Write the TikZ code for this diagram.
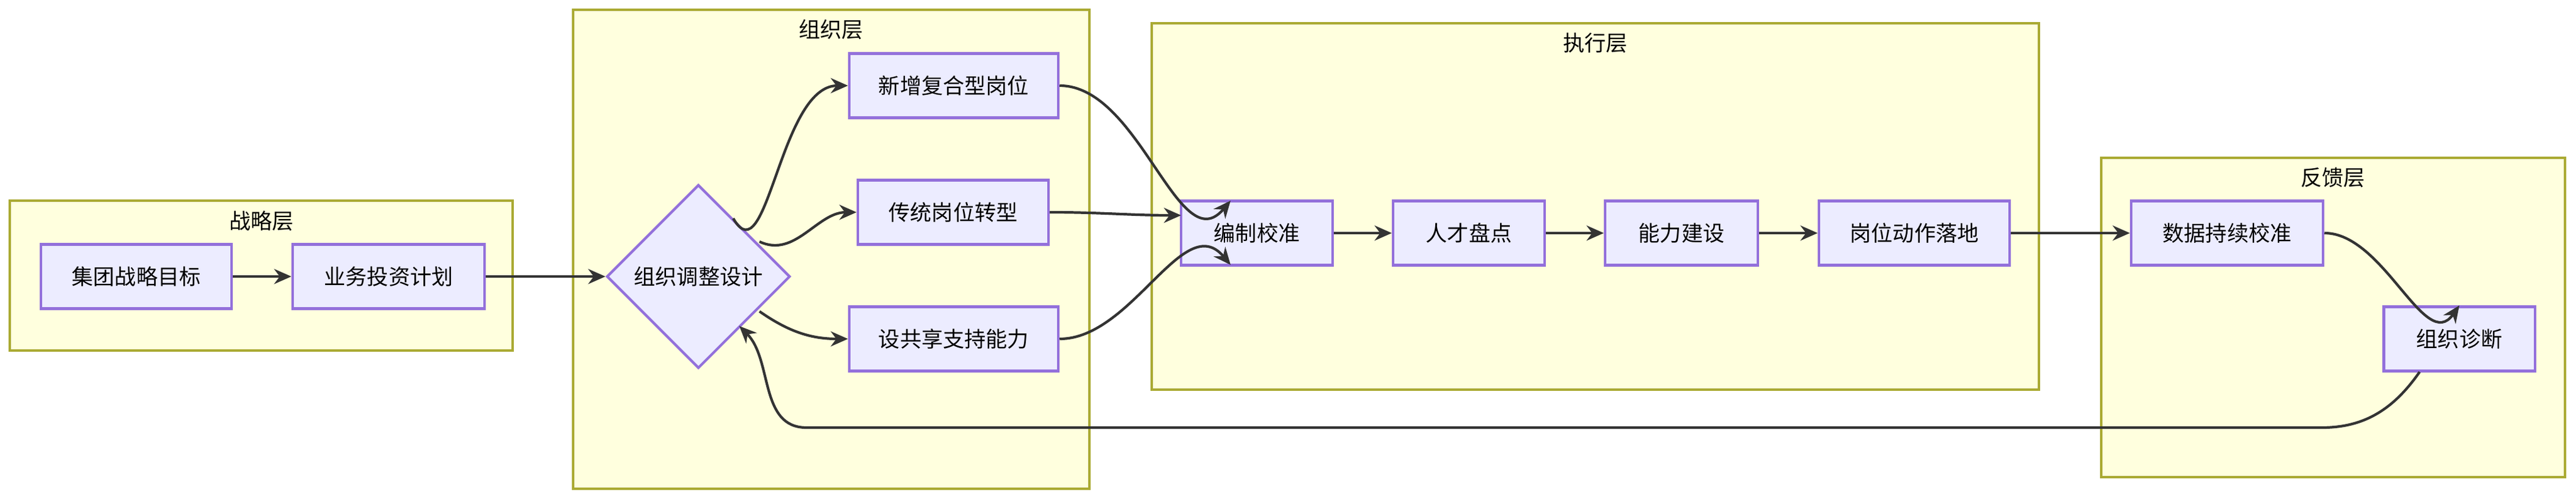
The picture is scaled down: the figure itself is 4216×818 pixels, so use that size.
\documentclass[tikz,border=0pt]{standalone}
\usepackage{fontspec}
\setmainfont{Noto Sans CJK SC}
\usetikzlibrary{shapes.geometric, arrows.meta}
\definecolor{clfill}{HTML}{FFFFDE}
\definecolor{cldraw}{HTML}{AAAA33}
\definecolor{ndfill}{HTML}{ECECFF}
\definecolor{nddraw}{HTML}{9370DB}
\tikzset{
  layer/.style={
    draw=cldraw,
    fill=clfill,
    line width=1.2pt
    },
  box/.style={
    rectangle,
    minimum height=1.05cm,
    align=center,
    draw=nddraw,
    fill=ndfill,
    line width=1.2pt,
    font=\fontsize{10}{12}\selectfont
    },
  decide/.style={
    diamond,
    minimum width=3cm,
    minimum height=3cm,
    inner sep=0pt,
    align=center,
    draw=nddraw,
    fill=ndfill,
    line width=1.2pt,
    font=\fontsize{10}{12}\selectfont
    },
  title/.style={font=\fontsize{10}{12}\selectfont, anchor=north},
  arrow/.style={line width=1.2pt, draw=black!80, -{Stealth[length=8pt,width=7pt]}}
}
\begin{document}
\begin{tikzpicture}[x=0.01cm, y=-0.01cm]
\useasboundingbox (0,0) rectangle (4216,818);
% layers
\draw[layer] (16,328) rectangle (839,573);
\node[title] at (428,332) {战略层};
\draw[layer] (938,16) rectangle (1783,799);
\node[title] at (1360,20) {组织层};
\draw[layer] (1885,38) rectangle (3337,637);
\node[title] at (2611,42) {执行层};
\draw[layer] (3439,258) rectangle (4198,780);
\node[title] at (3818,262) {反馈层};
% nodes
\node (goal) [box, minimum width=3.12cm] at (223,452) {集团战略目标};
\node (plan) [box, minimum width=3.14cm] at (636,452) {业务投资计划};
\node (design) [decide] at (1143,452) {组织调整设计};
\node (newpos) [box, minimum width=3.42cm] at (1561,140) {新增复合型岗位};
\node (oldpos) [box, minimum width=3.12cm] at (1560,347) {传统岗位转型};
\node (share) [box, minimum width=3.42cm] at (1561,554) {设共享支持能力};
\node (calib) [box, minimum width=2.48cm] at (2057,381) {编制校准};
\node (talent) [box, minimum width=2.48cm] at (2404,381) {人才盘点};
\node (build) [box, minimum width=2.5cm] at (2752,381) {能力建设};
\node (land) [box, minimum width=3.12cm] at (3133,381) {岗位动作落地};
\node (data) [box, minimum width=3.14cm] at (3645,381) {数据持续校准};
\node (diag) [box, minimum width=2.47cm] at (4025,554) {组织诊断};
% connector ends on the diamond
\coordinate (d1) at (1200,357);
\coordinate (d2) at (1243,395);
\coordinate (d3) at (1243,509);
\coordinate (d4) at (1210,533);
\coordinate (c1) at (2014,328);
\coordinate (c2) at (1933,352);
\coordinate (c3) at (2014,433);
\coordinate (f1) at (3960,608);
\coordinate (f2) at (3800,699);
\coordinate (f3) at (1320,699);
% edges
\draw[arrow] (goal) -- (plan);
\draw[arrow] (plan) -- (design);
\draw[arrow] (d1) to[out=-60,in=180] (newpos.west);
\draw[arrow] (d2) to[out=-25,in=180] (oldpos.west);
\draw[arrow] (d3) to[out=-35,in=180] (share.west);
\draw[arrow] (newpos.east) to[out=0,in=-130] (c1);
\draw[arrow] (oldpos.east) to[out=0,in=180] (c2);
\draw[arrow] (share.east) to[out=0,in=130] (c3);
\draw[arrow] (calib) -- (talent);
\draw[arrow] (talent) -- (build);
\draw[arrow] (build) -- (land);
\draw[arrow] (land) -- (data);
\draw[arrow] (data.east) to[out=0,in=-125] (diag.north);
\draw[arrow] (f1) to[out=-125,in=0] (f2) -- (f3) to[out=180,in=-45] (d4);
\end{tikzpicture}
\end{document}
